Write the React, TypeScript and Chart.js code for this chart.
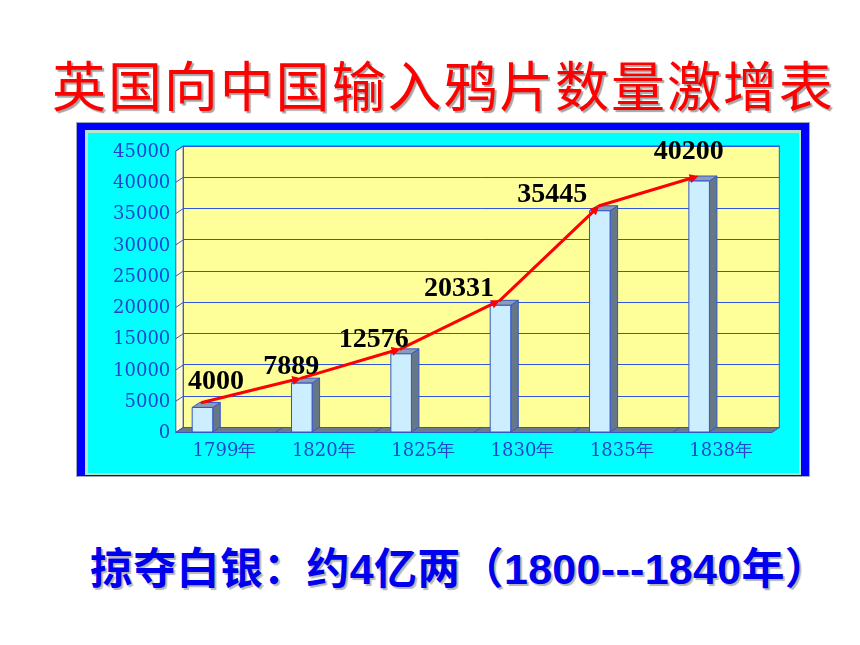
import React, { useEffect, useRef } from "react";
import { Chart, registerables } from "chart.js";

Chart.register(...registerables);

// ---- data ----
const categories = ["1799年", "1820年", "1825年", "1830年", "1835年", "1838年"];
const opiumChests = [4000, 7889, 12576, 20331, 35445, 40200];
const yMin = 0;
const yMax = 45000;
const yStep = 5000;
// hand-placed value label nudges (px, relative to the arrow point)
const labelDx = [14, -10, -27, -41, -47, -10];
const labelDy = [-13.5, -4, -2, -4.6, -4, -17];

const TITLE = "英国向中国输入鸦片数量激增表";
const NOTE = "掠夺白银：约4亿两（1800---1840年）";

// ---- styling constants ----
const DX = 7.5; // 3D depth (x)
const DY = 5; // 3D depth (y)
const BAR_SHIFT = -23;
const LINE_SHIFT = -31;
const EDGE = "#3355cc";

function poly(ctx: CanvasRenderingContext2D, pts: number[][], fill: string, stroke?: string, lw = 1) {
  ctx.beginPath();
  ctx.moveTo(pts[0][0], pts[0][1]);
  for (let i = 1; i < pts.length; i++) ctx.lineTo(pts[i][0], pts[i][1]);
  ctx.closePath();
  ctx.fillStyle = fill;
  ctx.fill();
  if (stroke) {
    ctx.strokeStyle = stroke;
    ctx.lineWidth = lw;
    ctx.stroke();
  }
}

const plugin3d = {
  id: "plugin3d",
  beforeDraw(chart: any) {
    const { ctx, width, height, chartArea: a } = chart;
    ctx.save();
    // frame
    ctx.fillStyle = "#0000ff";
    ctx.fillRect(0, 0, width, height);
    ctx.strokeStyle = "#a0a8c0";
    ctx.lineWidth = 1;
    ctx.strokeRect(0.5, 0.5, width - 1, height - 1);
    ctx.fillStyle = "#b4e4cc";
    ctx.fillRect(9, 8, 725 - 9, 353 - 8);
    ctx.fillStyle = "#00ffff";
    ctx.fillRect(12, 11, 723 - 12, 351 - 11);
    // back wall
    ctx.fillStyle = "#ffff99";
    ctx.fillRect(a.left, a.top, a.right - a.left, a.bottom - a.top);
    // left wall
    poly(
      ctx,
      [
        [a.left, a.top],
        [a.left - DX, a.top + DY],
        [a.left - DX, a.bottom + DY],
        [a.left, a.bottom],
      ],
      "#ffffcc",
      EDGE
    );
    const ys = chart.scales.y;
    ctx.strokeStyle = EDGE;
    ctx.lineWidth = 1;
    for (let v = yMin; v <= yMax; v += yStep) {
      const py = ys.getPixelForValue(v);
      ctx.beginPath();
      ctx.moveTo(a.left, py);
      ctx.lineTo(a.left - DX, py + DY);
      ctx.stroke();
    }
    // floor
    poly(
      ctx,
      [
        [a.left, a.bottom],
        [a.right, a.bottom],
        [a.right - DX, a.bottom + DY],
        [a.left - DX, a.bottom + DY],
      ],
      "#6b7b8b",
      EDGE
    );
    const n = categories.length;
    const cw = (a.right - a.left) / n;
    ctx.strokeStyle = EDGE;
    for (let k = 1; k < n; k++) {
      const bx = a.left + k * cw;
      ctx.beginPath();
      ctx.moveTo(bx, a.bottom);
      ctx.lineTo(bx - DX, a.bottom + DY);
      ctx.stroke();
    }
    // back wall outline
    ctx.strokeStyle = EDGE;
    ctx.strokeRect(a.left, a.top, a.right - a.left, a.bottom - a.top);
    ctx.restore();
  },
  afterDatasetsDraw(chart: any) {
    const { ctx } = chart;
    ctx.save();
    // bars
    const barMeta = chart.getDatasetMeta(0);
    barMeta.data.forEach((el: any) => {
      const { x, y, base, width } = el.getProps(["x", "y", "base", "width"], true);
      const bl = x + BAR_SHIFT - width / 2;
      const br = bl + width;
      const fl = bl - DX;
      const fr = br - DX;
      const ftop = y + DY;
      const fbot = base + DY;
      poly(ctx, [[fr, ftop], [br, y], [br, base], [fr, fbot]], "#667788", EDGE);
      poly(ctx, [[fl, ftop], [bl, y], [br, y], [fr, ftop]], "#8c9cb4", EDGE);
      poly(ctx, [[fl, ftop], [fr, ftop], [fr, fbot], [fl, fbot]], "#cceeff", EDGE);
    });
    // arrow line
    const lineMeta = chart.getDatasetMeta(1);
    const pts = lineMeta.data.map((el: any) => {
      const { x, y } = el.getProps(["x", "y"], true);
      return [x + LINE_SHIFT, y];
    });
    ctx.strokeStyle = "#ff0000";
    ctx.fillStyle = "#ff0000";
    ctx.lineWidth = 3;
    ctx.lineCap = "round";
    for (let i = 0; i < pts.length - 1; i++) {
      const [x0, y0] = pts[i];
      const [x1, y1] = pts[i + 1];
      const ang = Math.atan2(y1 - y0, x1 - x0);
      const L = 9;
      const W = 4.5;
      const ex = x1 - Math.cos(ang) * L;
      const ey = y1 - Math.sin(ang) * L;
      ctx.beginPath();
      ctx.moveTo(x0, y0);
      ctx.lineTo(ex + Math.cos(ang) * 2, ey + Math.sin(ang) * 2);
      ctx.stroke();
      ctx.beginPath();
      ctx.moveTo(x1, y1);
      ctx.lineTo(ex - Math.sin(ang) * W, ey + Math.cos(ang) * W);
      ctx.lineTo(ex + Math.sin(ang) * W, ey - Math.cos(ang) * W);
      ctx.closePath();
      ctx.fill();
    }
    // value labels
    ctx.fillStyle = "#000000";
    ctx.font = 'bold 28px "Liberation Serif", "Times New Roman", serif';
    ctx.textAlign = "center";
    ctx.textBaseline = "alphabetic";
    pts.forEach((p: number[], i: number) => {
      ctx.fillText(String(opiumChests[i]), p[0] + labelDx[i], p[1] + labelDy[i]);
    });
    ctx.restore();
  },
};

export default function App() {
  const ref = useRef<HTMLCanvasElement | null>(null);
  useEffect(() => {
    if (!ref.current) return;
    const chart = new Chart(ref.current, {
      type: "bar",
      data: {
        labels: categories,
        datasets: [
          {
            type: "bar",
            data: opiumChests,
            backgroundColor: "rgba(0,0,0,0)",
            borderWidth: 0,
            categoryPercentage: 1,
            barPercentage: 0.207,
          },
          {
            type: "line",
            data: opiumChests,
            borderColor: "rgba(0,0,0,0)",
            pointRadius: 0,
            showLine: false,
          },
        ],
      } as any,
      options: {
        responsive: false,
        animation: false,
        devicePixelRatio: 1,
        layout: { padding: { top: 24, right: 30.7, left: 0, bottom: 0 } },
        plugins: {
          legend: { display: false },
          tooltip: { enabled: false },
          title: { display: false },
        },
        scales: {
          x: {
            grid: { display: false, drawTicks: false },
            border: { display: false },
            ticks: {
              color: "#2244cc",
              font: { family: '"DejaVu Serif", serif', size: 18 },
              padding: 13,
              labelOffset: -8.5,
              autoSkip: false,
              maxRotation: 0,
            },
            afterFit: (s: any) => {
              s.height = 49.5;
            },
          },
          y: {
            min: yMin,
            max: yMax,
            grid: { color: "#3355dd", lineWidth: 1, drawTicks: false },
            border: { display: false },
            ticks: {
              stepSize: yStep,
              color: "#2244cc",
              font: { family: '"DejaVu Serif", serif', size: 18 },
              padding: 13,
              labelOffset: 6,
              callback: (v: any) => String(v),
            },
            afterFit: (s: any) => {
              s.width = 107.3;
            },
          },
        },
      } as any,
      plugins: [plugin3d],
    });
    return () => chart.destroy();
  }, []);

  return (
    <div style={{ position: "absolute", left: 0, top: 0, width: 860, height: 645, background: "#ffffff" }}>
      <div
        style={{
          position: "absolute",
          left: 52,
          top: 57,
          fontFamily: '"Noto Sans CJK SC", sans-serif',
          fontSize: 54,
          lineHeight: 1,
          letterSpacing: 1.9,
          color: "#ff0000",
          whiteSpace: "nowrap",
          textShadow: "2px 2px 1px rgba(90,90,90,0.55)",
        }}
      >
        {TITLE}
      </div>
      <canvas
        ref={ref}
        width={734}
        height={355}
        style={{ position: "absolute", left: 76, top: 122, width: 734, height: 355 }}
      />
      <div
        style={{
          position: "absolute",
          left: 90,
          top: 548,
          fontFamily: '"Liberation Sans", "Noto Sans CJK SC", sans-serif',
          fontWeight: "bold",
          fontSize: 43,
          lineHeight: 1,
          letterSpacing: 0.3,
          color: "#0000f0",
          whiteSpace: "nowrap",
          textShadow: "2px 2px 1px rgba(90,90,90,0.45)",
        }}
      >
        {NOTE}
      </div>
    </div>
  );
}
